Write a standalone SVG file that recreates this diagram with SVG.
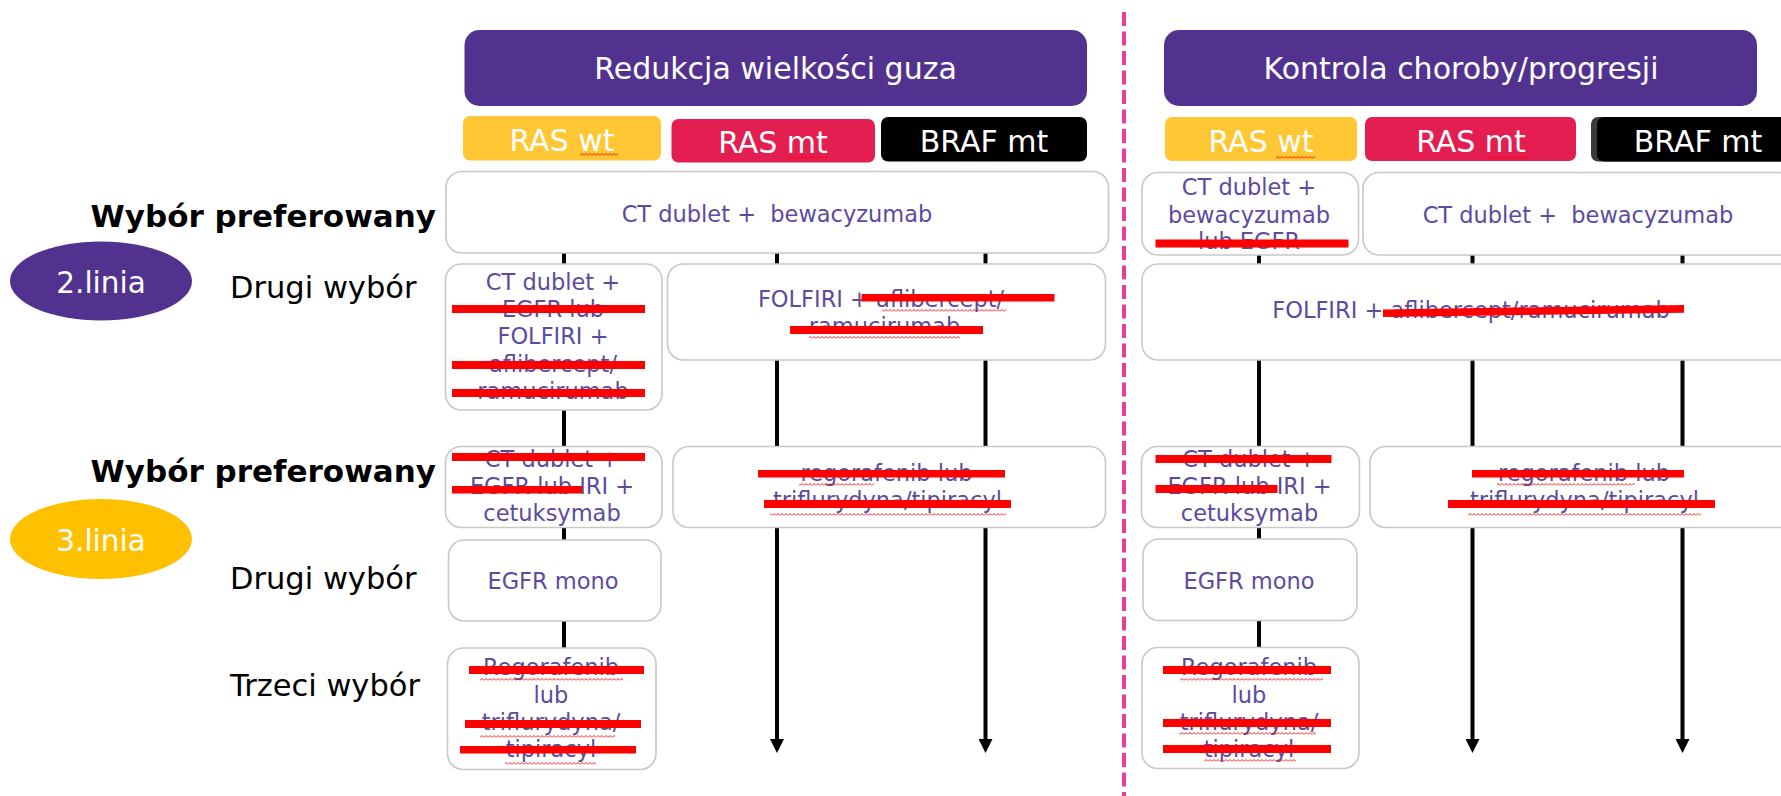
<svg xmlns="http://www.w3.org/2000/svg" width="1781" height="796" viewBox="0 0 1781 796">
<defs>
<style>
text { font-family: "DejaVu Sans", "Liberation Sans", sans-serif; }
.hdr { fill: #51338F; }
.hdrt { font-size: 30px; fill: #FFFFFF; text-anchor: middle; }
.sub { font-size: 30px; fill: #FFFFFF; text-anchor: middle; }
.box { fill: #FFFFFF; stroke: #C8C8C8; stroke-width: 1.6; }
.bt { font-size: 22.5px; fill: #5C4B9F; text-anchor: middle; }
.lbl { font-size: 30.5px; fill: #000000; }
.lblb { font-size: 31px; font-weight: bold; fill: #000000; text-anchor: end; }
.ell { font-size: 29.5px; fill: #FFFFFF; text-anchor: middle; }
.strike { fill: #FF0000; }
.conn { stroke: #000000; stroke-width: 4; fill: none; }
.wv { fill: url(#wave); }
</style>
<marker id="arr" viewBox="0 0 14 14" markerWidth="14" markerHeight="14" markerUnits="userSpaceOnUse" refX="8" refY="7" orient="auto">
<path d="M0,0 L14,7 L0,14 Z" fill="#000000"/>
</marker>
<pattern id="wave" x="0" y="0" width="4" height="3" patternUnits="userSpaceOnUse">
<path d="M0,2.5 L2,0.5 L4,2.5" fill="none" stroke="#FF0000" stroke-width="0.9"/>
</pattern>
</defs>
<rect x="0" y="0" width="1781" height="796" fill="#FFFFFF"/>

<!-- divider -->
<line id="divider" x1="1124" y1="12" x2="1124" y2="796" stroke="#E8409A" stroke-width="4" stroke-dasharray="14 5.5"/>

<!-- connectors -->
<g id="connectors" class="conn">
<path d="M564,253 V264 M564,410 V447 M564,527 V540 M564,621 V648"/>
<path d="M777,253 V264 M777,360 V447"/>
<path d="M777,527 V747" marker-end="url(#arr)"/>
<path d="M985.5,253 V264 M985.5,360 V447"/>
<path d="M985.5,527 V747" marker-end="url(#arr)"/>
<path d="M1259,255 V264 M1259,360 V447 M1259,527 V539 M1259,621 V647"/>
<path d="M1472.5,255 V264 M1472.5,360 V447"/>
<path d="M1472.5,527 V747" marker-end="url(#arr)"/>
<path d="M1682.5,255 V264 M1682.5,360 V447"/>
<path d="M1682.5,527 V747" marker-end="url(#arr)"/>
</g>

<!-- headers -->
<g id="hdr-left">
<rect class="hdr" x="464.5" y="30" width="622.5" height="76" rx="15"/>
<text class="hdrt" x="775.5" y="79">Redukcja wielkości guza</text>
</g>
<g id="hdr-right">
<rect class="hdr" x="1164" y="30" width="593" height="76" rx="15"/>
<text class="hdrt" x="1461" y="79">Kontrola choroby/progresji</text>
</g>

<!-- sub headers left -->
<g id="ras-wt-left">
<rect x="463" y="116" width="198" height="44.5" rx="7" fill="#FFC734"/>
<text class="sub" x="562" y="150.5">RAS wt</text>
<rect class="wv" x="580" y="153" width="38" height="3"/>
</g>
<g id="ras-mt-left">
<rect x="671.5" y="119" width="203.5" height="43.5" rx="7" fill="#E41E50"/>
<text class="sub" x="773" y="153">RAS mt</text>
<rect class="wv" x="787" y="156" width="42" height="3"/>
</g>
<g id="braf-mt-left">
<rect x="881" y="117" width="206" height="44.5" rx="7" fill="#000000"/>
<text class="sub" x="984" y="151.5">BRAF mt</text>
</g>

<!-- sub headers right -->
<g id="ras-wt-right">
<rect x="1165" y="117" width="192" height="44" rx="7" fill="#FFC734"/>
<text class="sub" x="1261" y="151.5">RAS wt</text>
<rect class="wv" x="1276" y="156" width="39" height="3"/>
</g>
<g id="ras-mt-right">
<rect x="1365" y="117" width="211" height="44" rx="7" fill="#E41E50"/>
<text class="sub" x="1471" y="151.5">RAS mt</text>
<rect class="wv" x="1485" y="156" width="44" height="3"/>
</g>
<g id="braf-mt-right">
<rect x="1591" y="117" width="220" height="44.5" rx="7" fill="#3A3A3A"/>
<rect x="1597" y="117" width="214" height="44.5" rx="7" fill="#000000"/>
<text class="sub" x="1698" y="151.5">BRAF mt</text>
</g>

<!-- left labels -->
<g id="label-wybor-1"><text class="lblb" x="436" y="227">Wybór preferowany</text></g>
<g id="label-drugi-1"><text class="lbl" x="230" y="298">Drugi wybór</text></g>
<g id="label-wybor-2"><text class="lblb" x="436" y="482">Wybór preferowany</text></g>
<g id="label-drugi-2"><text class="lbl" x="230" y="589">Drugi wybór</text></g>
<g id="label-trzeci"><text class="lbl" x="230" y="696">Trzeci wybór</text></g>

<g id="linia-2">
<ellipse cx="101" cy="281" rx="91" ry="39.5" fill="#51338F"/>
<text class="ell" x="101" y="293">2.linia</text>
</g>
<g id="linia-3">
<ellipse cx="101" cy="539" rx="91" ry="40" fill="#FFC000"/>
<text class="ell" x="101" y="551">3.linia</text>
</g>

<!-- left section boxes -->
<g id="L1">
<rect class="box" x="446" y="171.5" width="662.5" height="81.5" rx="16"/>
<text class="bt" x="777" y="221.5" xml:space="preserve">CT dublet +  bewacyzumab</text>
</g>
<g id="L2">
<rect class="box" x="445.5" y="264" width="216.5" height="146" rx="16"/>
<text class="bt" x="553" y="290">CT dublet +</text>
<text class="bt" x="553" y="317">EGFR lub</text>
<text class="bt" x="553" y="344">FOLFIRI +</text>
<text class="bt" x="553" y="371.5">aflibercept/</text>
<text class="bt" x="553" y="399">ramucirumab</text>
<rect class="strike" x="452" y="305" width="193" height="8"/>
<rect class="strike" x="452" y="361" width="193" height="8"/>
<rect class="strike" x="452" y="389" width="193" height="8"/>
</g>
<g id="L3">
<rect class="box" x="667.5" y="264" width="438" height="96" rx="16"/>
<text class="bt" x="881" y="306.5">FOLFIRI + aflibercept/</text>
<text class="bt" x="884.5" y="334">ramucirumab</text>
<rect class="wv" x="882" y="309" width="124" height="3"/>
<rect class="wv" x="809" y="336" width="151" height="3"/>
<rect class="strike" x="861.5" y="294" width="193" height="7.5"/>
<rect class="strike" x="790" y="326" width="193" height="8"/>
</g>
<g id="L4">
<rect class="box" x="445.5" y="446.5" width="216.5" height="81" rx="16"/>
<text class="bt" x="552" y="467">CT dublet +</text>
<text class="bt" x="552" y="494">EGFR lub IRI +</text>
<text class="bt" x="552" y="521">cetuksymab</text>
<rect class="strike" x="452" y="453" width="193" height="8"/>
<rect class="strike" x="452" y="486" width="130" height="7.5"/>
</g>
<g id="L5">
<rect class="box" x="673" y="446.5" width="432.5" height="81" rx="16"/>
<text class="bt" x="886.5" y="481">regorafenib lub</text>
<text class="bt" x="887.5" y="508">triflurydyna/tipiracyl</text>
<rect class="wv" x="799" y="483" width="75" height="3"/>
<rect class="wv" x="770" y="513" width="236" height="3"/>
<rect class="strike" x="758" y="470" width="247" height="7.5"/>
<rect class="strike" x="764" y="500" width="247" height="8"/>
</g>
<g id="L6">
<rect class="box" x="448.5" y="540" width="212.5" height="81" rx="16"/>
<text class="bt" x="553" y="589">EGFR mono</text>
</g>
<g id="L7">
<rect class="box" x="447.5" y="648" width="208.5" height="121.5" rx="16"/>
<text class="bt" x="551" y="675">Regorafenib</text>
<text class="bt" x="551" y="703">lub</text>
<text class="bt" x="551" y="730">triflurydyna/</text>
<text class="bt" x="551" y="757">tipiracyl</text>
<rect class="wv" x="480" y="678" width="143" height="3"/>
<rect class="wv" x="480" y="735" width="135" height="3"/>
<rect class="wv" x="505" y="762" width="91" height="3"/>
<rect class="strike" x="469" y="666" width="175" height="8"/>
<rect class="strike" x="465" y="720" width="176" height="8"/>
<rect class="strike" x="460" y="746" width="176" height="7.5"/>
</g>

<!-- right section boxes -->
<g id="R1">
<rect class="box" x="1142" y="172.5" width="216.5" height="82.5" rx="16"/>
<text class="bt" x="1249" y="195">CT dublet +</text>
<text class="bt" x="1249" y="222.5">bewacyzumab</text>
<text class="bt" x="1249" y="249">lub EGFR</text>
<rect class="strike" x="1155.5" y="239.5" width="193" height="8"/>
</g>
<g id="R2">
<rect class="box" x="1363" y="172.5" width="432" height="82.5" rx="16"/>
<text class="bt" x="1578" y="222.5" xml:space="preserve">CT dublet +  bewacyzumab</text>
</g>
<g id="R3">
<rect class="box" x="1142" y="264" width="658" height="96" rx="16"/>
<text class="bt" x="1471" y="318">FOLFIRI + aflibercept/ramucirumab</text>
<polygon class="strike" points="1383,309.5 1684,305 1684,312.7 1383,317"/>
</g>
<g id="R4">
<rect class="box" x="1141.5" y="446.5" width="218" height="81" rx="16"/>
<text class="bt" x="1249.5" y="467">CT dublet +</text>
<text class="bt" x="1249.5" y="494">EGFR lub IRI +</text>
<text class="bt" x="1249.5" y="521">cetuksymab</text>
<rect class="strike" x="1155.5" y="455" width="176" height="8"/>
<rect class="strike" x="1155.5" y="485" width="122" height="8"/>
</g>
<g id="R5">
<rect class="box" x="1370" y="446.5" width="430" height="81" rx="16"/>
<text class="bt" x="1584" y="481">regorafenib lub</text>
<text class="bt" x="1584.5" y="508">triflurydyna/tipiracyl</text>
<rect class="wv" x="1497" y="483" width="138" height="3"/>
<rect class="wv" x="1468" y="513" width="233" height="3"/>
<rect class="strike" x="1472" y="470" width="212" height="7.5"/>
<rect class="strike" x="1448" y="500" width="267" height="8"/>
</g>
<g id="R6">
<rect class="box" x="1143" y="539" width="214" height="81.5" rx="16"/>
<text class="bt" x="1249" y="589">EGFR mono</text>
</g>
<g id="R7">
<rect class="box" x="1142" y="647.5" width="217" height="121" rx="16"/>
<text class="bt" x="1249" y="675">Regorafenib</text>
<text class="bt" x="1249" y="703">lub</text>
<text class="bt" x="1249" y="730">triflurydyna/</text>
<text class="bt" x="1249" y="757">tipiracyl</text>
<rect class="wv" x="1180" y="678" width="143" height="3"/>
<rect class="wv" x="1179" y="732" width="137" height="3"/>
<rect class="wv" x="1204" y="759" width="92" height="3"/>
<rect class="strike" x="1163" y="666" width="168" height="8"/>
<rect class="strike" x="1163" y="719" width="168" height="8"/>
<rect class="strike" x="1163" y="745" width="168" height="8"/>
</g>
</svg>
